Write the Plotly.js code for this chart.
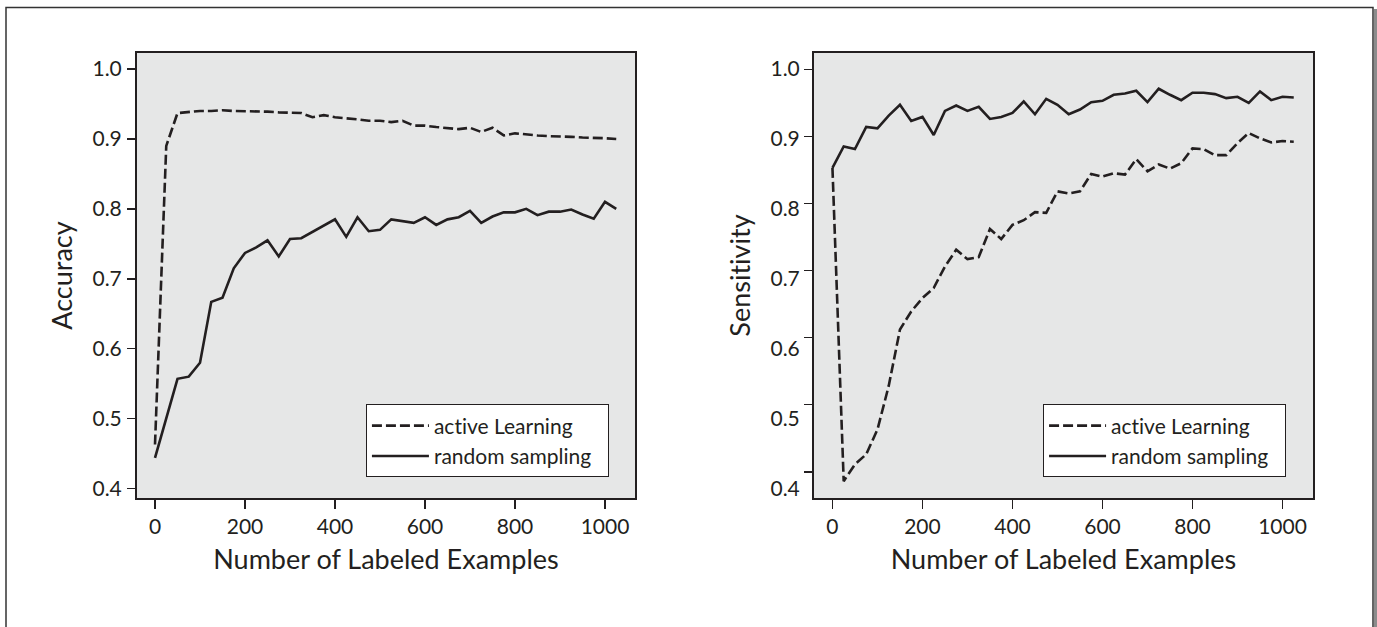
<!DOCTYPE html>
<html><head><meta charset="utf-8">
<script src="https://cdn.plot.ly/plotly-3.0.1.min.js"></script>
<style>
html,body{margin:0;padding:0;background:#fff;}
#chart{width:1377px;height:627px;}
#chart text{font-variant-ligatures:none !important;font-feature-settings:"liga" 0,"clig" 0 !important;}
</style>
</head><body><div id="chart"></div>
<script>
// ---- data ----
const examples = [0,25,50,75,100,125,150,175,200,225,250,275,300,325,350,375,400,425,450,475,500,525,550,575,600,625,650,675,700,725,750,775,800,825,850,875,900,925,950,975,1000,1025];
const accActive = [0.463,0.890,0.937,0.939,0.940,0.940,0.941,0.940,0.940,0.940,0.939,0.938,0.937,0.937,0.931,0.934,0.931,0.930,0.928,0.926,0.926,0.924,0.926,0.919,0.919,0.917,0.915,0.914,0.916,0.910,0.916,0.905,0.908,0.906,0.905,0.904,0.904,0.903,0.902,0.902,0.901,0.900];
const accRandom = [0.444,0.500,0.557,0.560,0.580,0.667,0.673,0.715,0.737,0.745,0.755,0.732,0.757,0.758,0.767,0.776,0.785,0.760,0.788,0.768,0.770,0.785,0.782,0.780,0.788,0.777,0.785,0.788,0.797,0.780,0.789,0.795,0.795,0.800,0.791,0.796,0.796,0.799,0.792,0.786,0.810,0.800];
const sensActive = [0.853,0.386,0.411,0.426,0.463,0.528,0.612,0.639,0.659,0.674,0.706,0.731,0.717,0.720,0.762,0.747,0.768,0.775,0.787,0.786,0.818,0.815,0.818,0.844,0.840,0.845,0.843,0.866,0.848,0.858,0.852,0.860,0.882,0.881,0.872,0.872,0.890,0.905,0.897,0.891,0.893,0.892];
const sensRandom = [0.853,0.885,0.881,0.914,0.912,0.931,0.947,0.923,0.929,0.902,0.938,0.946,0.938,0.944,0.926,0.929,0.935,0.952,0.933,0.956,0.947,0.933,0.940,0.951,0.953,0.962,0.964,0.968,0.951,0.971,0.962,0.954,0.965,0.965,0.963,0.957,0.959,0.950,0.967,0.954,0.959,0.958];
const xTicks = [0,200,400,600,800,1000];
const yTicks = [0.4,0.5,0.6,0.7,0.8,0.9,1.0];
const seriesNames = ['active Learning','random sampling'];
const xTitle = 'Number of Labeled Examples';
const yTitles = ['Accuracy','Sensitivity'];

// ---- style ----
const ink = '#231f20';
const FONT = 'Lato, "Open Sans", sans-serif';
const dashed = {color: ink, width: 2.6, dash: '10px,4px'};
const solid = {color: ink, width: 2.6};
const pad = '\u00a0\u00a0';

const traces = [
  {x: examples, y: accActive, name: seriesNames[0] + pad, mode: 'lines', line: dashed, xaxis: 'x', yaxis: 'y', legend: 'legend'},
  {x: examples, y: accRandom, name: seriesNames[1] + pad, mode: 'lines', line: solid, xaxis: 'x', yaxis: 'y', legend: 'legend'},
  {x: examples, y: sensActive, name: seriesNames[0] + pad, mode: 'lines', line: dashed, xaxis: 'x2', yaxis: 'y2', legend: 'legend2'},
  {x: examples, y: sensRandom, name: seriesNames[1] + pad, mode: 'lines', line: solid, xaxis: 'x2', yaxis: 'y2', legend: 'legend2'},
  {x: [], y: [], xaxis: 'x2', yaxis: 'y3', showlegend: false, hoverinfo: 'skip'}
];

function xAxis(domain, range) {
  return {
    domain: domain, range: range, tickvals: xTicks, ticks: 'outside', ticklen: 9, tickwidth: 1.5, tickcolor: ink,
    showline: true, mirror: true, linecolor: ink, linewidth: 2, showgrid: false, zeroline: false,
    tickfont: {family: FONT, size: 21, color: ink}, ticklabelstandoff: 0,
    title: {text: xTitle, font: {family: FONT, size: 27, color: ink}, standoff: 13}
  };
}
function yAxisBase(range) {
  return {
    domain: [0, 1], range: range, tickvals: yTicks, tickformat: '.1f', ticks: 'outside', ticklen: 8, tickwidth: 1.5, tickcolor: ink,
    showline: true, mirror: true, linecolor: ink, linewidth: 2, showgrid: false, zeroline: false,
    tickfont: {family: FONT, size: 21, color: ink}, ticklabelstandoff: 1
  };
}

const yLeft = yAxisBase([0.3865, 1.0229]);
yLeft.title = {text: yTitles[0], font: {family: FONT, size: 27, color: ink}, standoff: 12};

const yRight = yAxisBase([0.3609, 1.0243]);
yRight.showticklabels = false;
yRight.anchor = 'x2';

const yRightLabels = {
  overlaying: 'y2', anchor: 'x2', side: 'left', domain: [0, 1], range: [0.3865, 1.0229], tickvals: yTicks, tickformat: '.1f',
  ticks: 'outside', ticklen: 8, tickcolor: 'rgba(0,0,0,0)', showline: false, showgrid: false, zeroline: false,
  tickfont: {family: FONT, size: 21, color: ink}, ticklabelstandoff: 1,
  title: {text: yTitles[1], font: {family: FONT, size: 27, color: ink}, standoff: 12}
};

const legendStyle = (x) => ({
  x: x, y: 0.2106, xanchor: 'left', yanchor: 'top', bgcolor: '#ffffff', bordercolor: ink, borderwidth: 1.2,
  font: {family: FONT, size: 21, color: ink}, itemwidth: 57, tracegroupgap: 0
});

const W = 1377, H = 627, ML = 137, MR = 64, MT = 53, MB = 129;
const px = (v) => (v - ML) / (W - ML - MR);
const py = (v) => (H - MB - v) / (H - MT - MB);

const layout = {
  width: W, height: H,
  margin: {l: ML, r: MR, t: MT, b: MB, pad: 0},
  paper_bgcolor: '#ffffff', plot_bgcolor: '#e6e7e7',
  showlegend: true,
  xaxis: Object.assign(xAxis([0, 0.42347], [-40, 1066.7]), {anchor: 'y'}),
  yaxis: Object.assign(yLeft, {anchor: 'x'}),
  xaxis2: Object.assign(xAxis([0.57568, 1], [-41, 1067.8]), {anchor: 'y2'}),
  yaxis2: yRight,
  yaxis3: yRightLabels,
  legend: legendStyle(0.1945),
  legend2: legendStyle(0.7703),
  shapes: [
    {type: 'rect', xref: 'paper', yref: 'paper', x0: px(1374), x1: px(1378), y0: py(640), y1: py(9), fillcolor: '#8c8c8c', line: {width: 0}, layer: 'below'},
    {type: 'rect', xref: 'paper', yref: 'paper', x0: px(6), x1: px(1373), y0: py(640), y1: py(7.5), line: {color: '#333333', width: 1.5}, fillcolor: 'rgba(0,0,0,0)', layer: 'below'}
  ]
};

Plotly.newPlot('chart', traces, layout, {staticPlot: true, displayModeBar: false});
</script>
</body></html>
